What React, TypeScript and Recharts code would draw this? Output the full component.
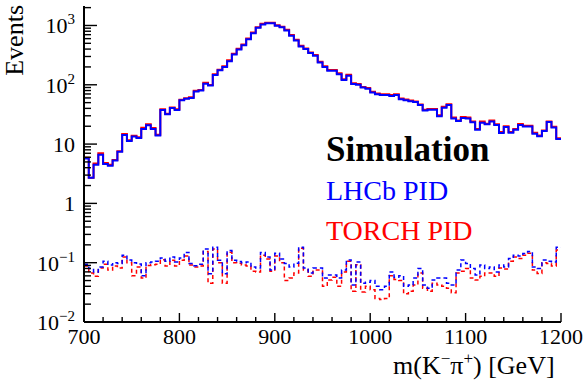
import { LineChart, Line, XAxis, YAxis } from "recharts"

const SERIF = "'Liberation Serif', 'DejaVu Serif', serif"

// histogram binning: 100 bins of 5 GeV from 700 to 1200
const BIN_START = 700
const BIN_WIDTH = 5

const LHCB_SOLID = [
  5.7, 2.7, 4.5, 6.6, 4.6, 4.3, 5.3, 7.4, 14.2, 11.3,
  13.4, 12.7, 18, 20.7, 18, 14, 37.5, 31.7, 40.5, 37.5,
  54.6, 58, 60, 77, 80, 104, 97, 146, 175, 199,
  250, 325, 395, 466, 588, 741, 914, 1040, 1093, 1093,
  989, 935, 824, 671, 559, 443, 400, 342, 309, 238,
  199, 173, 173, 151, 120, 142, 103, 100, 90, 86,
  74, 69, 67, 67, 65, 67, 57, 55, 53, 51,
  45.5, 37, 38, 38, 29.6, 41, 45.5, 27, 24.5, 27.5,
  27, 23.3, 17.5, 23, 21.5, 24, 21, 15.4, 19.5, 15.6,
  17.5, 21, 19.7, 19.7, 15, 13.5, 16.6, 23.5, 19, 12.2,
]

const TORCH_SOLID = [
  5.9, 2.7, 4.7, 7.0, 4.8, 4.5, 5.4, 7.6, 14.8, 11.6,
  13.8, 13.0, 18.8, 21.5, 18.6, 14.4, 38.5, 32.5, 41.5, 38.5,
  56, 59.5, 61.5, 79, 82, 108, 99, 150, 180, 205,
  258, 335, 405, 478, 602, 760, 935, 1065, 1110, 1110,
  1010, 955, 845, 690, 575, 455, 410, 350, 318, 245,
  205, 178, 178, 156, 124, 147, 106, 103, 92, 88,
  76, 71, 69, 69, 67, 69, 58.5, 56.5, 54.5, 52.5,
  46.5, 38, 39, 39, 30.5, 42.5, 47, 28, 25, 28.5,
  28, 24, 18, 24, 22, 25, 21.7, 16, 20, 16,
  18, 21.8, 20.3, 20.3, 15.5, 14, 17, 24, 19.6, 12.6,
]

const LHCB_DASH = [
  0.094, 0.08, 0.07, 0.085, 0.106, 0.091, 0.1, 0.097, 0.134, 0.111,
  0.1, 0.095, 0.06, 0.1, 0.103, 0.106, 0.12, 0.106, 0.125, 0.103,
  0.12, 0.149, 0.097, 0.089, 0.094, 0.17, 0.065, 0.183, 0.11, 0.065,
  0.16, 0.11, 0.105, 0.1, 0.103, 0.085, 0.081, 0.149, 0.125, 0.075,
  0.145, 0.115, 0.097, 0.085, 0.098, 0.183, 0.081, 0.067, 0.081, 0.081,
  0.055, 0.062, 0.062, 0.055, 0.075, 0.111, 0.042, 0.103, 0.045, 0.047,
  0.05, 0.04, 0.035, 0.04, 0.07, 0.057, 0.06, 0.04, 0.042, 0.055,
  0.08, 0.042, 0.037, 0.051, 0.055, 0.055, 0.045, 0.042, 0.075, 0.111,
  0.097, 0.08, 0.062, 0.091, 0.08, 0.085, 0.07, 0.091, 0.085, 0.118,
  0.134, 0.13, 0.143, 0.155, 0.085, 0.08, 0.111, 0.106, 0.103, 0.183,
]

const TORCH_DASH = [
  0.088, 0.067, 0.059, 0.081, 0.094, 0.075, 0.088, 0.081, 0.125, 0.1,
  0.06, 0.085, 0.055, 0.09, 0.092, 0.094, 0.112, 0.088, 0.11, 0.088,
  0.11, 0.13, 0.091, 0.085, 0.088, 0.155, 0.045, 0.17, 0.1, 0.045,
  0.15, 0.1, 0.098, 0.091, 0.088, 0.072, 0.07, 0.134, 0.115, 0.072,
  0.13, 0.1, 0.05, 0.055, 0.067, 0.176, 0.075, 0.059, 0.075, 0.075,
  0.04, 0.051, 0.057, 0.04, 0.07, 0.106, 0.033, 0.092, 0.032, 0.04,
  0.035, 0.025, 0.024, 0.025, 0.06, 0.052, 0.05, 0.03, 0.033, 0.042,
  0.067, 0.037, 0.033, 0.045, 0.042, 0.04, 0.037, 0.031, 0.067, 0.072,
  0.08, 0.055, 0.051, 0.059, 0.067, 0.067, 0.059, 0.081, 0.078, 0.106,
  0.125, 0.118, 0.134, 0.145, 0.075, 0.066, 0.1, 0.097, 0.088, 0.163,
]

const X_TICKS = [
  700, 720, 740, 760, 780, 800, 820, 840, 860, 880, 900, 920, 940, 960, 980,
  1000, 1020, 1040, 1060, 1080, 1100, 1120, 1140, 1160, 1180, 1200,
]
const Y_DECADES = [0.01, 0.1, 1, 10, 100, 1000]
const Y_MULT = [1, 2, 3, 4, 5, 6, 7, 8, 9]
const Y_MAX = 2130
const Y_TICKS = Y_DECADES.flatMap((d) => Y_MULT.map((m) => +(d * m).toPrecision(3))).filter(
  (v) => v < Y_MAX,
)

// step data: one point per bin low edge, plus the closing edge
const data = LHCB_SOLID.map((_, i) => ({
  x: BIN_START + i * BIN_WIDTH,
  lhcb: LHCB_SOLID[i],
  torch: TORCH_SOLID[i],
  lhcbDash: LHCB_DASH[i],
  torchDash: TORCH_DASH[i],
}))
const last = LHCB_SOLID.length - 1
data.push({
  x: BIN_START + LHCB_SOLID.length * BIN_WIDTH,
  lhcb: LHCB_SOLID[last],
  torch: TORCH_SOLID[last],
  lhcbDash: LHCB_DASH[last],
  torchDash: TORCH_DASH[last],
})

const serif = { fontFamily: SERIF }

const isDecade = (v: number) => Math.abs(Math.log10(v) - Math.round(Math.log10(v))) < 1e-6

const YLabel = ({ x, y, v }: { x: number; y: number; v: number }) => {
  const e = Math.round(Math.log10(v))
  const common = { x, y: y + 8, textAnchor: "end" as const, fontSize: 22, style: serif, fill: "#000" }
  if (e === 0) return <text {...common}>1</text>
  if (e === 1) return <text {...common}>10</text>
  return (
    <text {...common}>
      10
      <tspan dy={-9} fontSize={15}>
        {e < 0 ? `\u2212${-e}` : e}
      </tspan>
    </text>
  )
}

const BottomTick = (props: any) => {
  const { x, y, payload } = props
  const major = payload.value % 100 === 0
  return (
    <g>
      <line x1={x} x2={x} y1={y} y2={y - (major ? 9 : 5)} stroke="#000" strokeWidth={1.4} />
      {major && (
        <text x={x} y={y + 22} textAnchor="middle" fontSize={22} style={serif} fill="#000">
          {payload.value}
        </text>
      )}
    </g>
  )
}

const TopTick = (props: any) => {
  const { x, y, payload } = props
  const major = payload.value % 100 === 0
  return <line x1={x} x2={x} y1={y} y2={y + (major ? 9 : 5)} stroke="#000" strokeWidth={1.4} />
}

const LeftTick = (props: any) => {
  const { x, y, payload } = props
  const major = isDecade(payload.value)
  return (
    <g>
      <line x1={x} x2={x + (major ? 13 : 7)} y1={y} y2={y} stroke="#000" strokeWidth={1.4} />
      {major && <YLabel x={x - 9} y={y} v={payload.value} />}
    </g>
  )
}

const RightTick = (props: any) => {
  const { x, y, payload } = props
  const major = isDecade(payload.value)
  return <line x1={x} x2={x - (major ? 13 : 7)} y1={y} y2={y} stroke="#000" strokeWidth={1.4} />
}

const axisLine = { stroke: "#000", strokeWidth: 2 }

export default function App() {
  return (
    <div style={{ position: "absolute", left: 0, top: 0, width: 587, height: 380, background: "#fff" }}>
      <LineChart width={587} height={380} data={data} margin={{ top: 6, right: 26, bottom: 0, left: 0 }}>
        <XAxis
          xAxisId="b"
          type="number"
          dataKey="x"
          domain={[700, 1200]}
          ticks={X_TICKS}
          interval={0}
          allowDataOverflow
          height={58}
          axisLine={axisLine}
          tickLine={false}
          tickSize={0}
          tickMargin={0}
          tick={<BottomTick />}
        />
        <XAxis
          xAxisId="t"
          orientation="top"
          type="number"
          dataKey="x"
          domain={[700, 1200]}
          ticks={X_TICKS}
          interval={0}
          allowDataOverflow
          height={0}
          axisLine={axisLine}
          tickLine={false}
          tickSize={0}
          tickMargin={0}
          tick={<TopTick />}
        />
        <YAxis
          yAxisId="l"
          scale="log"
          domain={[0.01, Y_MAX]}
          ticks={Y_TICKS}
          interval={0}
          allowDataOverflow
          width={84}
          axisLine={axisLine}
          tickLine={false}
          tickSize={0}
          tickMargin={0}
          tick={<LeftTick />}
        />
        <YAxis
          yAxisId="r"
          orientation="right"
          scale="log"
          domain={[0.01, Y_MAX]}
          ticks={Y_TICKS}
          interval={0}
          allowDataOverflow
          width={0}
          axisLine={axisLine}
          tickLine={false}
          tickSize={0}
          tickMargin={0}
          tick={<RightTick />}
        />
        <Line xAxisId="b" yAxisId="l" type="stepAfter" dataKey="torch" stroke="#ff0000" strokeWidth={2} dot={false} activeDot={false} isAnimationActive={false} />
        <Line xAxisId="b" yAxisId="l" type="stepAfter" dataKey="lhcb" stroke="#0000ff" strokeWidth={2} dot={false} activeDot={false} isAnimationActive={false} />
        <Line xAxisId="b" yAxisId="l" type="stepAfter" dataKey="torchDash" stroke="#ff0000" strokeWidth={1.5} strokeDasharray="4 3" dot={false} activeDot={false} isAnimationActive={false} />
        <Line xAxisId="b" yAxisId="l" type="stepAfter" dataKey="lhcbDash" stroke="#0000ff" strokeWidth={1.5} strokeDasharray="4 3" dot={false} activeDot={false} isAnimationActive={false} />
      </LineChart>
      <svg width={587} height={380} style={{ position: "absolute", left: 0, top: 0, pointerEvents: "none", ...serif }}>
        <text transform="translate(23,5) rotate(-90)" textAnchor="end" fontSize={26} style={serif} fill="#000">
          Events
        </text>
        <text x={393} y={374} fontSize={26} style={serif} fill="#000">
          m(K
          <tspan dy={-10} fontSize={17}>{"\u2212"}</tspan>
          <tspan dy={10} fontSize={26}>π</tspan>
          <tspan dy={-10} fontSize={17}>+</tspan>
          <tspan dy={10} fontSize={26}>) [GeV]</tspan>
        </text>
        <text x={326} y={161} fontSize={35} fontWeight="bold" style={serif} fill="#000">
          Simulation
        </text>
        <text x={326} y={200} fontSize={28} style={serif} fill="#0000ff">
          LHCb PID
        </text>
        <text x={326} y={240} fontSize={28} style={serif} fill="#ff0000">
          TORCH PID
        </text>
      </svg>
    </div>
  )
}
